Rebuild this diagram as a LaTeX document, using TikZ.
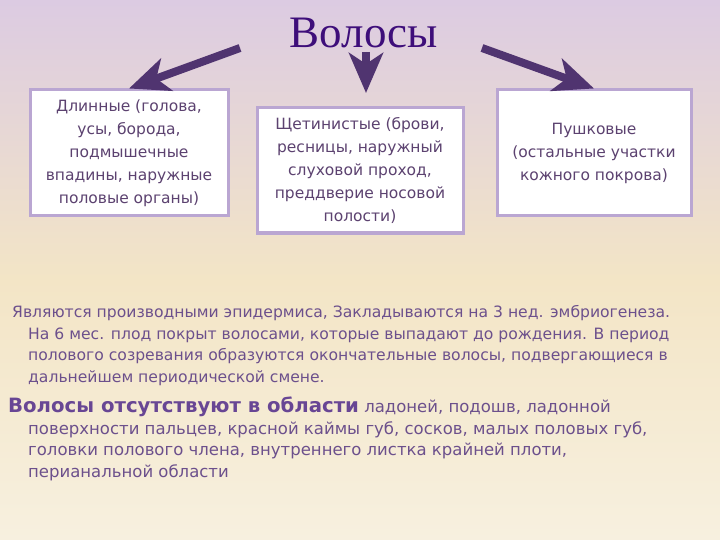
\documentclass[tikz,border=0pt]{standalone}
\usepackage{fontspec}
\setmainfont{DejaVu Sans}
\newfontfamily\titlefont{Liberation Serif}
\usetikzlibrary{arrows.meta,positioning}
\definecolor{bgtop}{RGB}{220,203,226}
\definecolor{bgmid}{RGB}{243,229,198}
\definecolor{bgbot}{RGB}{247,240,223}
\definecolor{titlecol}{RGB}{62,14,122}
\definecolor{arrcol}{RGB}{80,52,112}
\definecolor{boxline}{RGB}{186,166,210}
\definecolor{boxtext}{RGB}{92,66,112}
\definecolor{bodytext}{RGB}{108,80,140}
\definecolor{boldtext}{RGB}{104,70,148}

\begin{document}
\begin{tikzpicture}[x=1pt,y=-1pt,>={Stealth[length=40pt,width=34pt,inset=11pt]},
  box/.style={draw=boxline,line width=3pt,fill=white,align=center,text=boxtext,
    font=\fontsize{15.5}{23}\selectfont,inner sep=0pt},
  arr/.style={->,draw=arrcol,fill=arrcol,line width=8pt},
  para/.style={anchor=north west,align=left,inner sep=0pt,text=bodytext,
    font=\fontsize{15.6}{21.7}\selectfont}]
\shade[top color=bgtop,bottom color=bgmid](0,0)rectangle(720,280);
\shade[top color=bgmid,bottom color=bgbot](0,280)rectangle(720,540);
\useasboundingbox (0,0) rectangle (720,540);
\node[text=titlecol,font=\titlefont\fontsize{45}{45}\selectfont](title) at (364,33){Волосы};
% three kinds of hair
\node[box,minimum width=198pt,minimum height=126pt](long) at (129,153)
  {Длинные (голова,\\усы, борода,\\подмышечные\\впадины, наружные\\половые органы)};
\node[box,minimum width=206pt,minimum height=125pt](bristle) at (360,170.5)
  {Щетинистые (брови,\\ресницы, наружный\\слуховой проход,\\преддверие носовой\\полости)};
\node[box,minimum width=194pt,minimum height=126pt](vellus) at (594,153)
  {Пушковые\\(остальные участки\\кожного покрова)};
\coordinate (ls) at (240,48);
\coordinate (rs) at (482,48);
\coordinate (ms) at (366,52);
\coordinate (mt) at (366,93);
\draw[arr](ls)--(long.north);
\draw[arr](ms)--(mt);
\draw[arr](rs)--(vellus.north);
% text below
\node[para](origin) at (12,305){Являются производными эпидермиса, Закладываются на 3 нед. эмбриогенеза.\\
  \hspace*{16pt}На 6 мес. плод покрыт волосами, которые выпадают до рождения. В период\\
  \hspace*{16pt}полового созревания образуются окончательные волосы, подвергающиеся в\\
  \hspace*{16pt}дальнейшем периодической смене.};
\node[para,font=\fontsize{16.5}{21.5}\selectfont](absent) at (8,397){{\color{boldtext}\bfseries\fontsize{19.7}{21.5}\selectfont Волосы отсутствуют в области} ладоней, подошв, ладонной\\
  \hspace*{20pt}поверхности пальцев, красной каймы губ, сосков, малых половых губ,\\
  \hspace*{20pt}головки полового члена, внутреннего листка крайней плоти,\\
  \hspace*{20pt}перианальной области};
\end{tikzpicture}
\end{document}
